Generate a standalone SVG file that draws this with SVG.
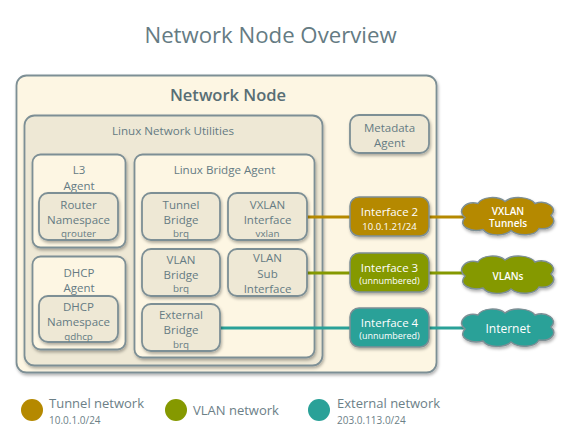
<svg xmlns="http://www.w3.org/2000/svg" width="574" height="448" viewBox="0 0 574 448">
<defs>
<filter id="sh" x="-20%" y="-20%" width="140%" height="150%">
<feDropShadow dx="1" dy="2" stdDeviation="1.5" flood-color="#000" flood-opacity="0.3"/>
</filter>
<path id="cloud" d="M -43,1 C -52,-6 -42,-16 -30,-13 C -26,-20 -10,-21 -3,-15 C 4,-21 22,-20 27,-13 C 38,-17 51,-9 43,-1 C 50,6 42,14 31,12 C 27,20 10,20 3,14 C -3,20 -20,20 -25,13 C -37,16 -51,10 -43,1 Z"/>
</defs>
<style>
text{font-family:"Open Sans","Noto Sans","Liberation Sans",sans-serif;text-anchor:middle;fill:#657b83}
.c1{fill:#fdf6e3;stroke:#7d8f95;stroke-width:1.8;filter:url(#sh)}
.c2{fill:#eee8d5;stroke:#7d8f95;stroke-width:1.8;filter:url(#sh)}
.m{font-size:11.5px}
.s{font-size:9.8px}
.h{font-size:11.6px}
.wi{font-size:11.5px;fill:#fff}
.ws{font-size:9px;fill:#fff}
.cl{font-size:10px;fill:#fff;font-weight:600}
.lg{font-size:13px;text-anchor:start;fill:#6c8087}
.lgs{font-size:10px;text-anchor:start;fill:#6c8087}
.ln{stroke-width:3;fill:none}
.y{stroke:#b58900}.g{stroke:#859900}.t{stroke:#2aa198}
.fy{fill:#b58900;stroke:#7d8f95;stroke-width:1.5;filter:url(#sh)}
.fg{fill:#859900;stroke:#7d8f95;stroke-width:1.5;filter:url(#sh)}
.ft{fill:#2aa198;stroke:#7d8f95;stroke-width:1.5;filter:url(#sh)}
</style>
<rect width="574" height="448" fill="#fff"/>
<text x="270.5" y="42.5" style="font-size:22.2px">Network Node Overview</text>

<g id="network-node">
<rect class="c1" x="16.5" y="75.5" width="420" height="297" rx="10"/>
<text x="228" y="101" style="font-size:16.5px;font-weight:600;fill:#586e75">Network Node</text>
</g>
<g id="linux-network-utilities">
<rect class="c2" x="24.5" y="115.5" width="298" height="250" rx="10"/>
<text class="h" x="173" y="135">Linux Network Utilities</text>
</g>
<g id="l3-agent">
<rect class="c1" x="32.5" y="154.5" width="93" height="93" rx="8"/>
<text class="m" x="79" y="174">L3</text>
<text class="m" x="79" y="190">Agent</text>
</g>
<g id="dhcp-agent">
<rect class="c1" x="32.5" y="256.5" width="93" height="93" rx="8"/>
<text class="m" x="79" y="277">DHCP</text>
<text class="m" x="79" y="292">Agent</text>
</g>
<g id="linux-bridge-agent">
<rect class="c1" x="134.5" y="154.5" width="180" height="203" rx="8"/>
<text class="h" x="224.5" y="174">Linux Bridge Agent</text>
</g>

<g id="connectors">
<line class="ln y" x1="307" y1="217" x2="350" y2="217"/>
<line class="ln y" x1="429" y1="217" x2="466" y2="217"/>
<line class="ln g" x1="307" y1="273" x2="350" y2="273"/>
<line class="ln g" x1="429" y1="273" x2="466" y2="273"/>
<line class="ln t" x1="220" y1="328" x2="350" y2="328"/>
<line class="ln t" x1="429" y1="328" x2="466" y2="328"/>
</g>

<g id="router-namespace">
<rect class="c2" x="39" y="193" width="79" height="47" rx="9"/>
<text class="m" x="78.5" y="209">Router</text>
<text class="m" x="78.5" y="224">Namespace</text>
<text class="s" x="78.5" y="236.5">qrouter</text>
</g>
<g id="dhcp-namespace">
<rect class="c2" x="39" y="296" width="79" height="46" rx="9"/>
<text class="m" x="78.5" y="311">DHCP</text>
<text class="m" x="78.5" y="326">Namespace</text>
<text class="s" x="78.5" y="339.5">qdhcp</text>
</g>
<g id="tunnel-bridge">
<rect class="c2" x="142" y="193" width="78" height="47" rx="9"/>
<text class="m" x="181" y="209">Tunnel</text>
<text class="m" x="181" y="224">Bridge</text>
<text class="s" x="181" y="236.5">brq</text>
</g>
<g id="vxlan-interface">
<rect class="c2" x="228" y="193" width="79" height="47" rx="9"/>
<text class="m" x="267.5" y="209">VXLAN</text>
<text class="m" x="267.5" y="224">Interface</text>
<text class="s" x="267.5" y="236.5">vxlan</text>
</g>
<g id="vlan-bridge">
<rect class="c2" x="142" y="249" width="78" height="47" rx="9"/>
<text class="m" x="181" y="264">VLAN</text>
<text class="m" x="181" y="279">Bridge</text>
<text class="s" x="181" y="291.5">brq</text>
</g>
<g id="vlan-sub-interface">
<rect class="c2" x="228" y="249" width="79" height="47" rx="9"/>
<text class="m" x="267.5" y="262">VLAN</text>
<text class="m" x="267.5" y="278">Sub</text>
<text class="m" x="267.5" y="293">Interface</text>
</g>
<g id="external-bridge">
<rect class="c2" x="142" y="304" width="78" height="47" rx="9"/>
<text class="m" x="181" y="319">External</text>
<text class="m" x="181" y="334">Bridge</text>
<text class="s" x="181" y="347.5">brq</text>
</g>
<g id="metadata-agent">
<rect class="c2" x="350" y="115" width="79" height="38" rx="9"/>
<text class="m" x="389.5" y="132">Metadata</text>
<text class="m" x="389.5" y="147">Agent</text>
</g>

<g id="interface-2">
<rect class="fy" x="350" y="197" width="79" height="39" rx="9"/>
<text class="wi" x="389.5" y="216">Interface 2</text>
<text class="wi" x="389.5" y="229.5" style="font-size:9.5px">10.0.1.21/24</text>
</g>
<g id="interface-3">
<rect class="fg" x="350" y="253" width="79" height="39" rx="9"/>
<text class="wi" x="389.5" y="272">Interface 3</text>
<text class="ws" x="389.5" y="283.5">(unnumbered)</text>
</g>
<g id="interface-4">
<rect class="ft" x="350" y="308" width="79" height="39" rx="9"/>
<text class="wi" x="389.5" y="327">Interface 4</text>
<text class="ws" x="389.5" y="339">(unnumbered)</text>
</g>

<g id="vxlan-tunnels">
<use href="#cloud" transform="translate(508,216.5)" class="fy"/>
<text class="cl" x="508" y="214.5">VXLAN</text>
<text class="cl" x="508" y="226.5">Tunnels</text>
</g>
<g id="vlans">
<use href="#cloud" transform="translate(508,275)" class="fg"/>
<text class="cl" x="508" y="279.5">VLANs</text>
</g>
<g id="internet">
<use href="#cloud" transform="translate(508,328)" class="ft"/>
<text class="wi" x="508" y="333" style="font-size:12px">Internet</text>
</g>

<g id="legend">
<circle cx="32" cy="410" r="11" fill="#b58900"/>
<text class="lg" x="49" y="408">Tunnel network</text>
<text class="lgs" x="49" y="424">10.0.1.0/24</text>
<circle cx="176" cy="410" r="11" fill="#859900"/>
<text class="lg" x="193" y="415">VLAN network</text>
<circle cx="319" cy="410" r="11" fill="#2aa198"/>
<text class="lg" x="337" y="408">External network</text>
<text class="lgs" x="337" y="424">203.0.113.0/24</text>
</g>
</svg>
